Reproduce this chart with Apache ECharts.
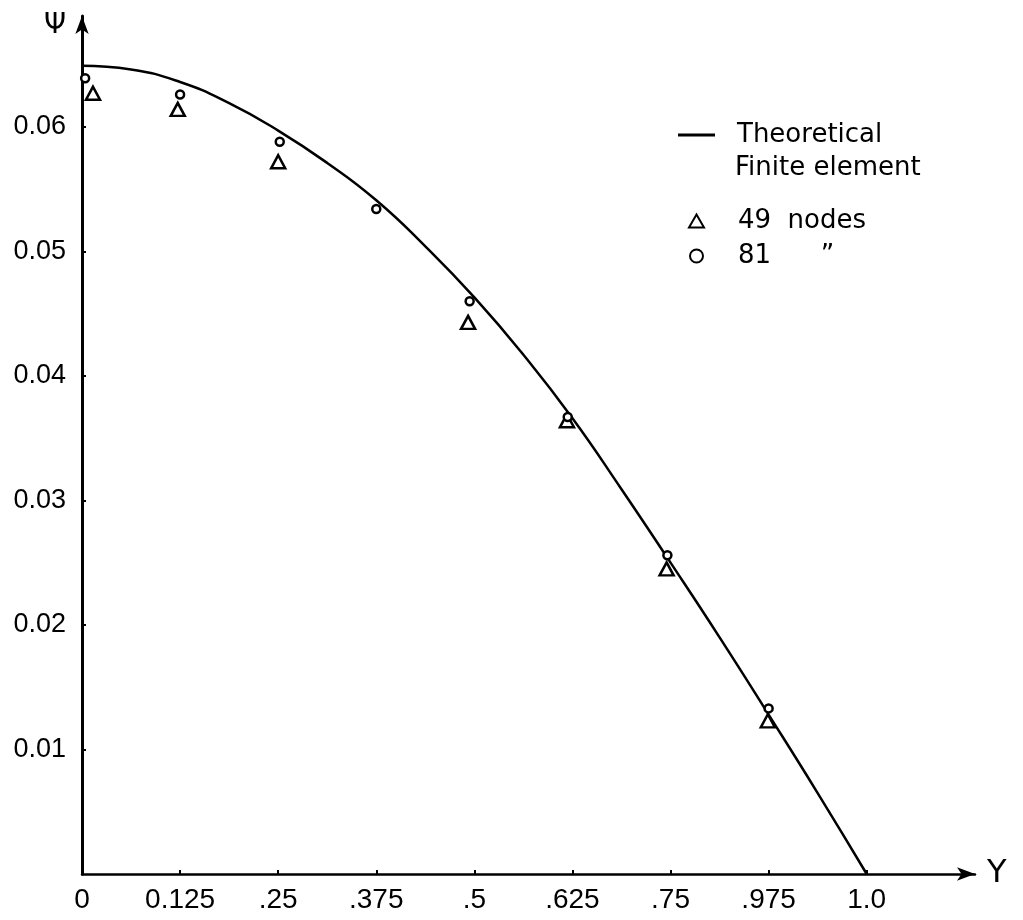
<!DOCTYPE html>
<html>
<head>
<meta charset="utf-8">
<script src="https://cdn.jsdelivr.net/npm/echarts@6/dist/echarts.min.js"></script>
<style>
  html, body { margin: 0; padding: 0; background: #fff; }
  #chart { width: 1023px; height: 920px; }
</style>
</head>
<body>
<div id="chart"></div>
<script>
// x ticks and the labels printed under them (".975" is how the plot prints 0.875)
var xTicks = [0, 0.125, 0.25, 0.375, 0.5, 0.625, 0.75, 0.875, 1.0];
var xTickLabels = ['0', '0.125', '.25', '.375', '.5', '.625', '.75', '.975', '1.0'];
var yTicks = [0.01, 0.02, 0.03, 0.04, 0.05, 0.06];

// theoretical curve
var theoryX = [0, 0.0625, 0.125, 0.1875, 0.25, 0.3125, 0.375, 0.4375, 0.5, 0.5625, 0.625, 0.6875, 0.75, 0.8125, 0.875, 0.9375, 1.0];
var theoryY = [0.0649, 0.0646, 0.0636, 0.0619, 0.0597, 0.0571, 0.0541, 0.0504, 0.0463, 0.0417, 0.0366, 0.0309, 0.0250, 0.0190, 0.0128, 0.0065, 0];

// finite element, 49 nodes (triangles)
var nodes49X = [0.014, 0.122, 0.250, 0.492, 0.618, 0.745, 0.874];
var nodes49Y = [0.0627, 0.0614, 0.0572, 0.0443, 0.0364, 0.0245, 0.0123];

// finite element, 81 nodes (circles)
var nodes81X = [0.004, 0.125, 0.252, 0.375, 0.494, 0.619, 0.746, 0.875];
var nodes81Y = [0.0639, 0.0626, 0.0588, 0.0534, 0.0460, 0.0367, 0.0256, 0.0133];

function pairs(xs, ys) {
  return xs.map(function (x, i) { return [x, ys[i]]; });
}

var font = '"Liberation Sans Narrow", "Liberation Sans", sans-serif';
var font2 = '"DejaVu Sans", "Liberation Sans", sans-serif';

var myChart = echarts.init(document.getElementById('chart'));

myChart.setOption({
  backgroundColor: '#fff',
  animation: false,
  grid: { left: 82, right: 48, top: 16, bottom: 46 },
  legend: [
    {
      left: 673, top: 117,
      itemWidth: 37, itemHeight: 3,
      data: [{ name: 'Theoretical', icon: 'rect' }],
      textStyle: { fontFamily: font2, fontSize: 26, color: '#000', padding: [0, 0, 0, 17] }
    },
    {
      left: 683, top: 203,
      orient: 'vertical',
      itemWidth: 15, itemHeight: 13, itemGap: 9,
      data: ['49  nodes', '81      \u201D'],
      textStyle: { fontFamily: font2, fontSize: 26, color: '#000', padding: [0, 0, 0, 29] }
    }
  ],
  graphic: [
    {
      type: 'text', left: 735, top: 155,
      style: { text: 'Finite element', font: '26px ' + font2, fill: '#000' }
    }
  ],
  xAxis: {
    type: 'value',
    min: 0, max: 1.138,
    name: 'Y', nameLocation: 'end', nameGap: 12,
    nameTextStyle: { fontFamily: font2, fontSize: 32, color: '#000', verticalAlign: 'middle' },
    axisLine: { lineStyle: { color: '#000', width: 2.5 }, symbol: ['none', 'arrow'], symbolSize: [10, 18] },
    axisTick: { customValues: xTicks, length: 4, inside: true, lineStyle: { color: '#000', width: 2 } },
    axisLabel: {
      customValues: xTicks,
      fontFamily: font, fontSize: 28, color: '#000', margin: 12,
      formatter: function (v) {
        for (var i = 0; i < xTicks.length; i++) {
          if (Math.abs(xTicks[i] - v) < 1e-6) return xTickLabels[i];
        }
        return '';
      }
    },
    splitLine: { show: false }
  },
  yAxis: {
    type: 'value',
    min: 0, max: 0.0689,
    name: '\u03A8', nameLocation: 'end', nameGap: -24,
    nameTextStyle: { fontFamily: font2, fontSize: 28, color: '#000', align: 'right', padding: [0, 16, 0, 0] },
    axisLine: { lineStyle: { color: '#000', width: 3 }, symbol: ['none', 'arrow'], symbolSize: [10, 18] },
    axisTick: { customValues: yTicks, length: 4, inside: true, lineStyle: { color: '#000', width: 2 } },
    axisLabel: {
      customValues: yTicks,
      fontFamily: font, fontSize: 27, color: '#000', margin: 16,
      formatter: function (v) { return v.toFixed(2); }
    },
    splitLine: { show: false }
  },
  series: [
    {
      name: 'Theoretical',
      type: 'line',
      data: pairs(theoryX, theoryY),
      smooth: true,
      symbol: 'none',
      lineStyle: { color: '#000', width: 2.5 },
      itemStyle: { color: '#000' },
      z: 2
    },
    {
      name: '49  nodes',
      type: 'scatter',
      data: pairs(nodes49X, nodes49Y),
      symbol: 'triangle',
      symbolSize: [14, 13],
      itemStyle: { color: '#fff', borderColor: '#000', borderWidth: 2.5, opacity: 1 },
      z: 3
    },
    {
      name: '81      \u201D',
      type: 'scatter',
      data: pairs(nodes81X, nodes81Y),
      symbol: 'circle',
      symbolSize: 8,
      itemStyle: { color: '#fff', borderColor: '#000', borderWidth: 2.5, opacity: 1 },
      z: 4
    }
  ]
});
</script>
</body>
</html>
